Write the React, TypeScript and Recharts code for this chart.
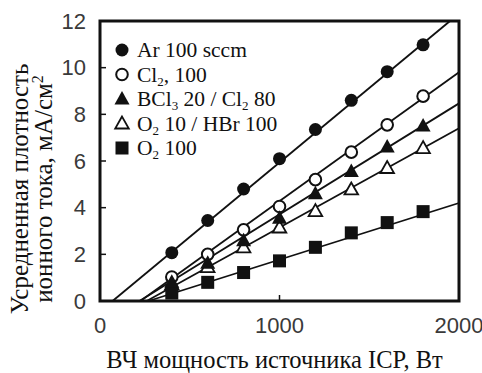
import React from "react";
import {
  ComposedChart,
  Scatter,
  XAxis,
  YAxis,
  ReferenceArea,
  Legend,
} from "recharts";

// ICP source power, W
const power = [400, 600, 800, 1000, 1200, 1400, 1600, 1800];

// averaged ion current density, mA/cm2
const ar = [2.07, 3.45, 4.8, 6.1, 7.35, 8.6, 9.83, 10.98];
const cl2 = [1.03, 2.0, 3.05, 4.05, 5.2, 6.38, 7.55, 8.78];
const bcl3 = [0.8, 1.62, 2.58, 3.55, 4.6, 5.55, 6.6, 7.5];
const o2hbr = [0.7, 1.45, 2.3, 3.15, 3.85, 4.78, 5.7, 6.55];
const o2 = [0.34, 0.8, 1.22, 1.72, 2.3, 2.92, 3.36, 3.83];

// fitted straight lines (end points)
const arFit = [{ x: 70, y: 0 }, { x: 1950, y: 12 }];
const cl2Fit = [{ x: 225, y: 0 }, { x: 2000, y: 9.8 }];
const bcl3Fit = [{ x: 220, y: 0 }, { x: 2000, y: 8.47 }];
const o2hbrFit = [{ x: 260, y: 0 }, { x: 2000, y: 7.4 }];
const o2Fit = [{ x: 270, y: 0 }, { x: 2000, y: 4.2 }];

const xTicks = [0, 1000, 2000];
const yTicks = [0, 2, 4, 6, 8, 10, 12];

const toPoints = (vals: number[]) => power.map((p, i) => ({ x: p, y: vals[i] }));

const INK = "#111";
const SERIF = "Liberation Serif, DejaVu Serif, serif";
const SANS = "Liberation Sans, Arial, sans-serif";

type MarkerKind = "dot" | "ring" | "tri" | "openTri" | "square";

function drawMarker(kind: MarkerKind, cx: number, cy: number) {
  switch (kind) {
    case "dot":
      return <circle cx={cx} cy={cy} r={6.5} fill={INK} />;
    case "ring":
      return <circle cx={cx} cy={cy} r={5.8} fill="#fff" stroke={INK} strokeWidth={2} />;
    case "tri":
      return (
        <polygon
          points={`${cx},${cy - 8} ${cx - 7.5},${cy + 5.5} ${cx + 7.5},${cy + 5.5}`}
          fill={INK}
        />
      );
    case "openTri":
      return (
        <polygon
          points={`${cx},${cy - 7} ${cx - 6.8},${cy + 5} ${cx + 6.8},${cy + 5}`}
          fill="#fff"
          stroke={INK}
          strokeWidth={1.8}
        />
      );
    default:
      return <rect x={cx - 6.5} y={cy - 6.5} width={13} height={13} fill={INK} />;
  }
}

const shape = (kind: MarkerKind) => (props: any) => drawMarker(kind, props.cx, props.cy);

// label parts: [text, isSubscript]
const legendItems: { kind: MarkerKind; parts: [string, boolean][] }[] = [
  { kind: "dot", parts: [["Ar 100 sccm", false]] },
  { kind: "ring", parts: [["Cl", false], ["2", true], [", 100", false]] },
  {
    kind: "tri",
    parts: [["BCl", false], ["3", true], [" 20 / Cl", false], ["2", true], [" 80", false]],
  },
  { kind: "openTri", parts: [["O", false], ["2", true], [" 10 / HBr 100", false]] },
  { kind: "square", parts: [["O", false], ["2", true], [" 100", false]] },
];

function LegendBox() {
  return (
    <svg width={230} height={130}>
      {legendItems.map((item, i) => {
        const cy = 14 + i * 24.5;
        let sub = false;
        return (
          <g key={i}>
            {drawMarker(item.kind, 17, cy)}
            <text x={32} y={cy + 7} style={{ fontFamily: SERIF, fontSize: 21.5 }} fill={INK}>
              {item.parts.map(([t, isSub], j) => {
                let dy = 0;
                if (isSub && !sub) dy = 4;
                if (!isSub && sub) dy = -4;
                sub = isSub;
                return (
                  <tspan key={j} dy={dy} style={{ fontSize: isSub ? 13 : 21.5 }}>
                    {t}
                  </tspan>
                );
              })}
            </text>
          </g>
        );
      })}
    </svg>
  );
}

function YTick(props: any) {
  const { x, y, payload } = props;
  const v = payload.value;
  return (
    <g>
      {v !== 0 && v !== 12 && <line x1={x} x2={x + 6} y1={y} y2={y} stroke={INK} strokeWidth={1.5} />}
      <text x={x - 14} y={y + 7.5} textAnchor="end" style={{ fontFamily: SANS, fontSize: 22 }} fill="#3a3a3a">
        {v}
      </text>
    </g>
  );
}

function XTick(props: any) {
  const { x, y, payload } = props;
  const v = payload.value;
  return (
    <g>
      {v !== 0 && v !== 2000 && <line x1={x} x2={x} y1={y} y2={y - 6} stroke={INK} strokeWidth={1.5} />}
      <text x={x} y={y + 32} textAnchor="middle" style={{ fontFamily: SANS, fontSize: 22 }} fill="#3a3a3a">
        {v}
      </text>
    </g>
  );
}

function YTitle() {
  const cy = 189;
  const st = { fontFamily: SERIF, fontSize: 25 };
  return (
    <g fill={INK}>
      <text x={28} y={cy} transform={`rotate(-90 28 ${cy})`} textAnchor="middle" style={st}>
        Усредненная плотность
      </text>
      <text x={52} y={cy} transform={`rotate(-90 52 ${cy})`} textAnchor="middle" style={st}>
        ионного тока, мА/см
        <tspan dy={-9} style={{ fontSize: 16 }}>
          2
        </tspan>
      </text>
    </g>
  );
}

function XTitle(props: any) {
  const { viewBox } = props;
  const cx = viewBox.x + viewBox.width / 2 - 5;
  return (
    <text x={cx} y={368} textAnchor="middle" style={{ fontFamily: SERIF, fontSize: 24.5 }} fill={INK}>
      ВЧ мощность источника ICP, Вт
    </text>
  );
}

const fitLine = { stroke: INK, strokeWidth: 1.8 };

export default function App() {
  return (
    <div style={{ position: "absolute", left: 0, top: 0, background: "#fff" }}>
      <ComposedChart width={482} height={373} margin={{ top: 21, right: 23, bottom: 0, left: 0 }}>
        <XAxis
          type="number"
          dataKey="x"
          domain={[0, 2000]}
          ticks={xTicks}
          axisLine={false}
          tickLine={false}
          tickSize={0}
          tickMargin={0}
          height={72}
          tick={<XTick />}
          label={<XTitle />}
          interval={0}
        />
        <YAxis
          type="number"
          dataKey="y"
          domain={[0, 12]}
          ticks={yTicks}
          axisLine={false}
          tickLine={false}
          tickSize={0}
          tickMargin={0}
          width={100}
          tick={<YTick />}
          label={<YTitle />}
          interval={0}
        />
        <Scatter data={arFit} line={fitLine} shape={() => <g />} isAnimationActive={false} />
        <Scatter data={cl2Fit} line={fitLine} shape={() => <g />} isAnimationActive={false} />
        <Scatter data={bcl3Fit} line={fitLine} shape={() => <g />} isAnimationActive={false} />
        <Scatter data={o2hbrFit} line={fitLine} shape={() => <g />} isAnimationActive={false} />
        <Scatter data={o2Fit} line={fitLine} shape={() => <g />} isAnimationActive={false} />
        <Scatter data={toPoints(o2hbr)} shape={shape("openTri")} isAnimationActive={false} />
        <Scatter data={toPoints(cl2)} shape={shape("ring")} isAnimationActive={false} />
        <Scatter data={toPoints(o2)} shape={shape("square")} isAnimationActive={false} />
        <Scatter data={toPoints(bcl3)} shape={shape("tri")} isAnimationActive={false} />
        <Scatter data={toPoints(ar)} shape={shape("dot")} isAnimationActive={false} />
        <ReferenceArea x1={0} x2={2000} y1={0} y2={12} fill="none" stroke={INK} strokeWidth={3} />
        <Legend
          layout="vertical"
          align="center"
          verticalAlign="middle"
          content={() => <LegendBox />}
          wrapperStyle={{ left: 105, top: 36, width: 230 }}
        />
      </ComposedChart>
    </div>
  );
}
